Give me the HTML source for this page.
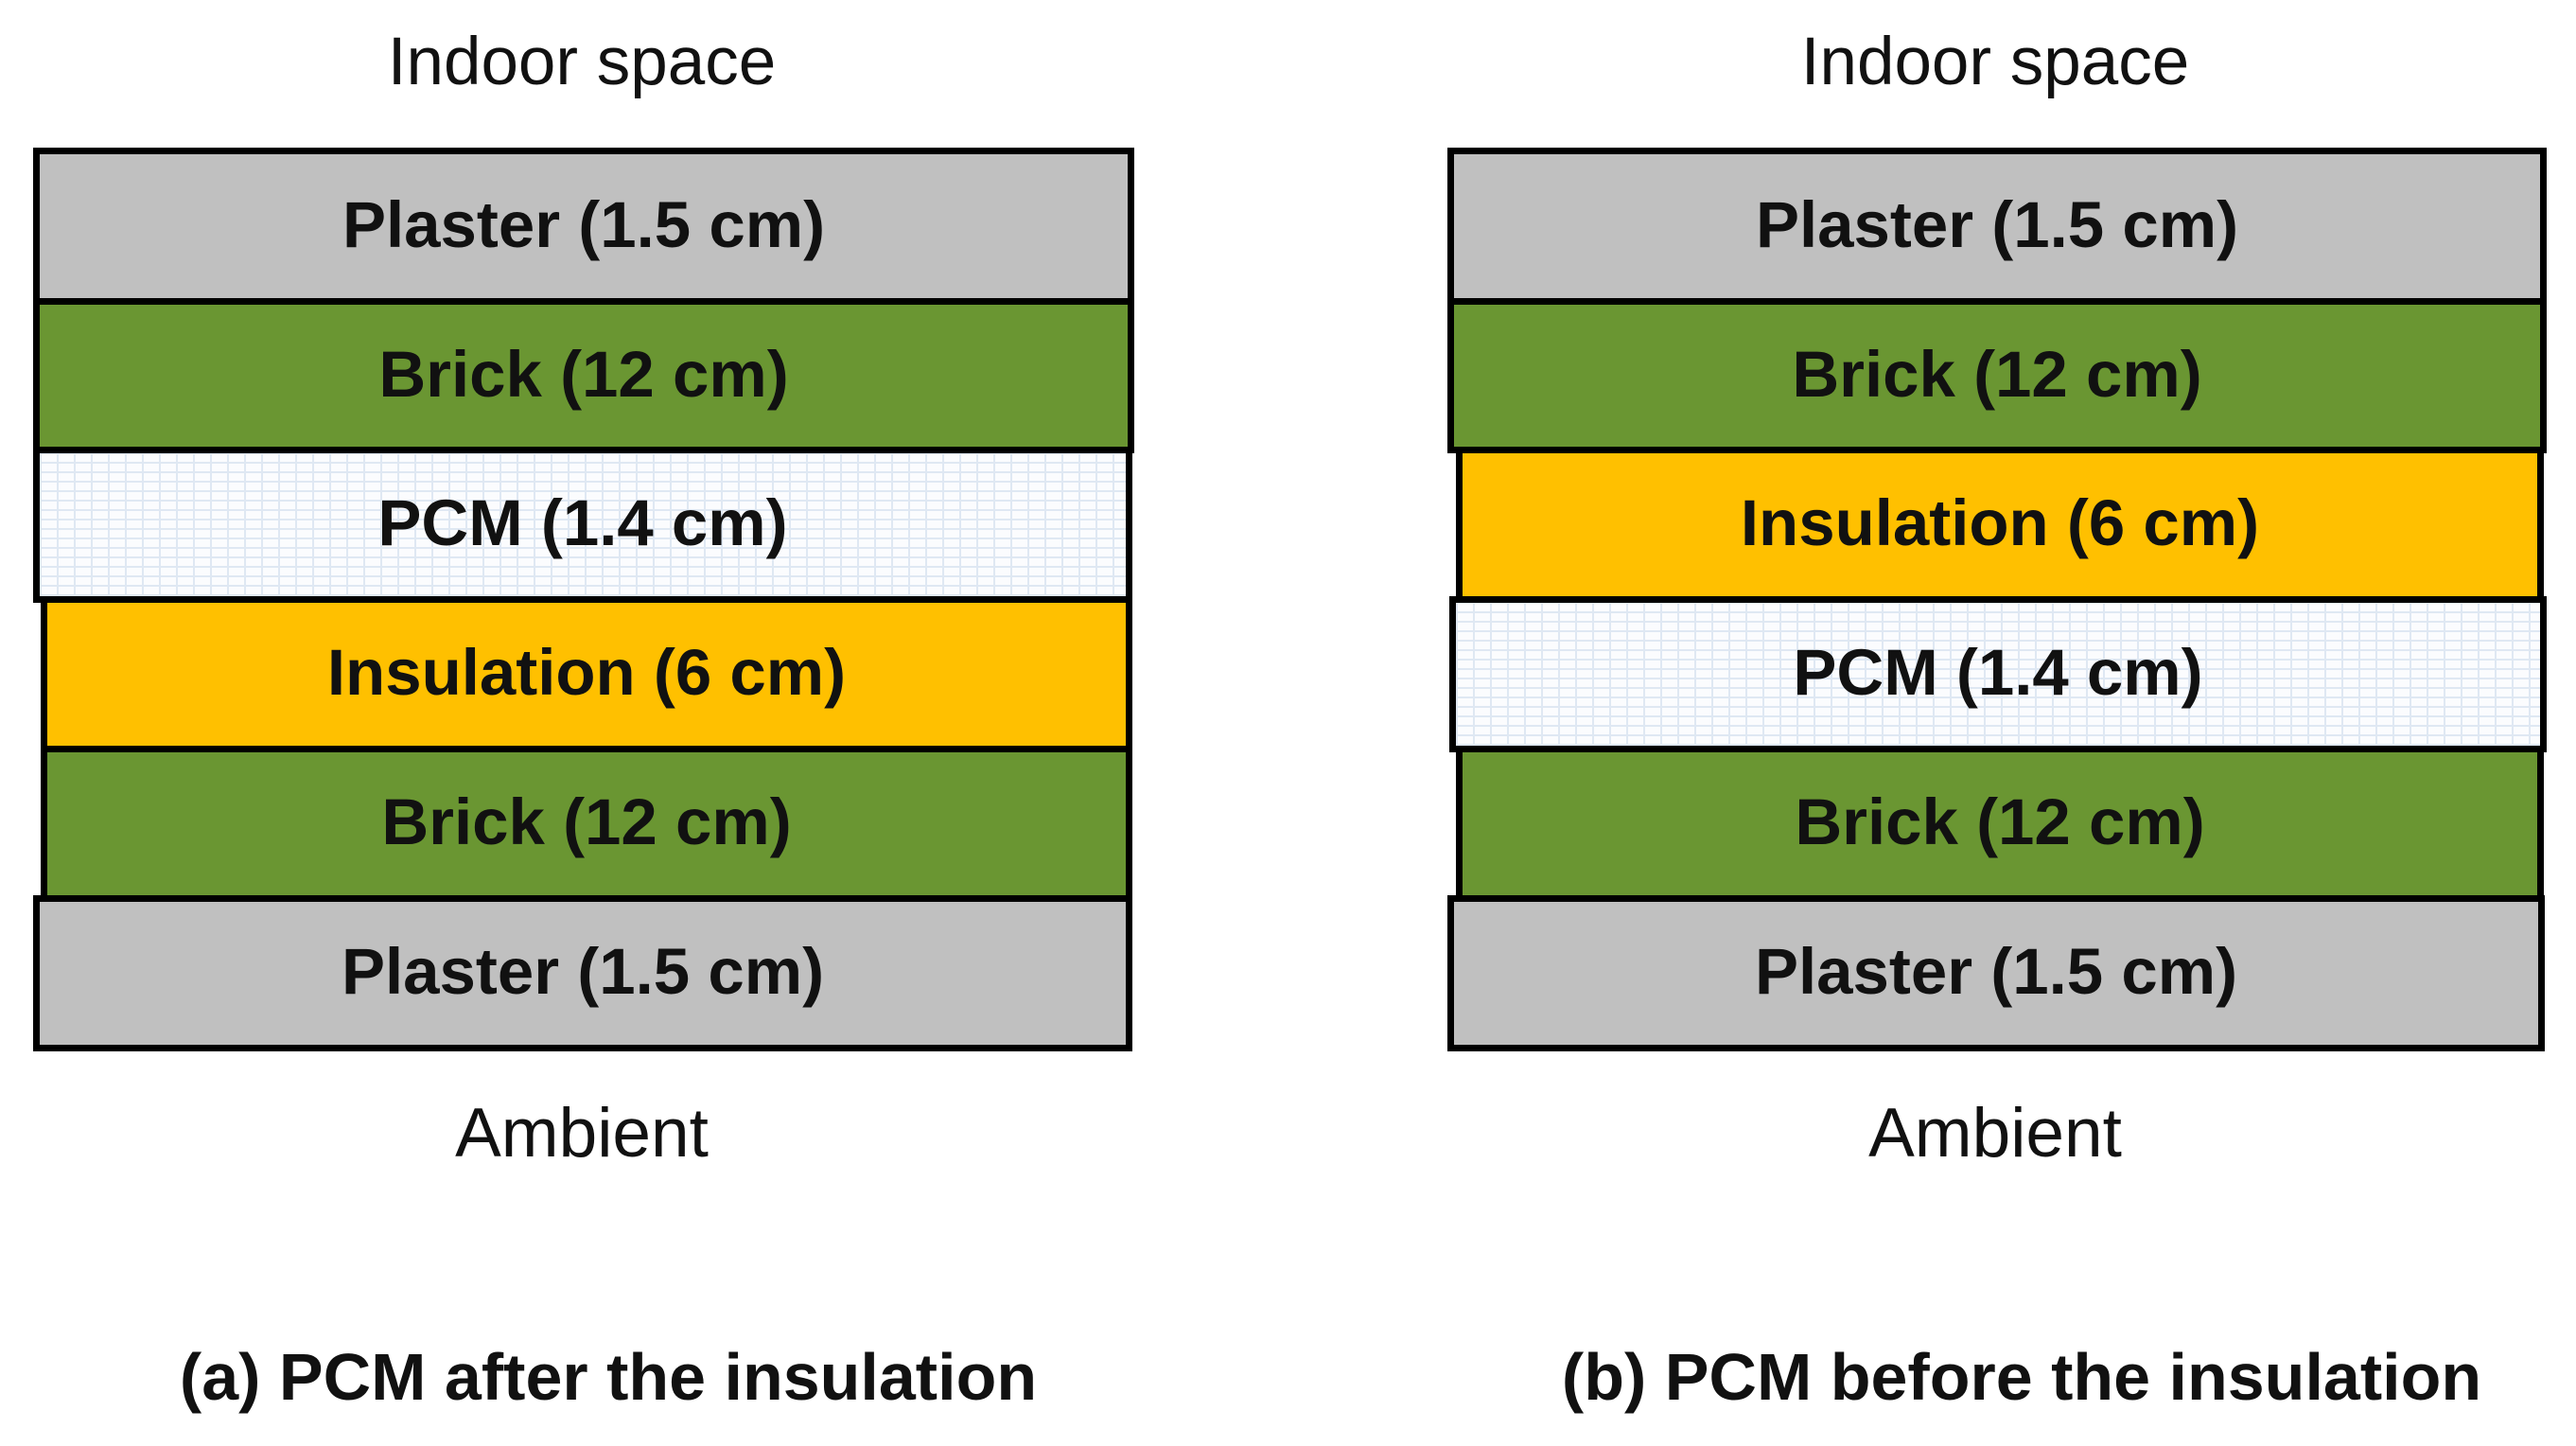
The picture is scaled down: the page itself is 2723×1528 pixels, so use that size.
<!DOCTYPE html>
<html><head><meta charset="utf-8"><style>
body{margin:0;width:2723px;height:1528px;background:#fff;position:relative;overflow:hidden;font-family:"Liberation Sans",sans-serif}
.r{position:absolute;box-sizing:border-box;border:7px solid #000;display:flex;align-items:center;justify-content:center;font-weight:bold;font-size:69px;color:#111;padding-bottom:4px}
.g{background:#c0c0c0}.b{background:#6a9632}.y{background:#ffc000}
.p{background-color:#fbfcfe;background-image:
repeating-linear-gradient(0deg,#dfe8f3 0 2px,transparent 2px 10px),
repeating-linear-gradient(90deg,#dfe8f3 0 2px,transparent 2px 18px)}
.t{position:absolute;transform:translateX(-50%);white-space:nowrap;font-size:71px;color:#111;line-height:1}
.c{font-weight:bold;font-size:70px}
</style></head><body>
<div class="t" style="left:615px;top:30px">Indoor space</div>
<div class="t" style="left:2109px;top:30px">Indoor space</div>

<div class="r g" style="left:35px;top:156px;width:1164px;height:166px">Plaster (1.5 cm)</div>
<div class="r b" style="left:35px;top:315px;width:1164px;height:164px">Brick (12 cm)</div>
<div class="r p" style="left:35px;top:472px;width:1162px;height:165px">PCM (1.4 cm)</div>
<div class="r y" style="left:43px;top:630px;width:1154px;height:165px">Insulation (6 cm)</div>
<div class="r b" style="left:43px;top:788px;width:1154px;height:165px">Brick (12 cm)</div>
<div class="r g" style="left:35px;top:946px;width:1162px;height:165px">Plaster (1.5 cm)</div>

<div class="r g" style="left:1530px;top:156px;width:1162px;height:166px">Plaster (1.5 cm)</div>
<div class="r b" style="left:1530px;top:315px;width:1162px;height:164px">Brick (12 cm)</div>
<div class="r y" style="left:1539px;top:472px;width:1150px;height:165px">Insulation (6 cm)</div>
<div class="r p" style="left:1532px;top:630px;width:1160px;height:165px">PCM (1.4 cm)</div>
<div class="r b" style="left:1539px;top:788px;width:1150px;height:165px">Brick (12 cm)</div>
<div class="r g" style="left:1530px;top:946px;width:1160px;height:165px">Plaster (1.5 cm)</div>

<div class="t" style="left:615px;top:1161px;font-size:73px">Ambient</div>
<div class="t" style="left:2109px;top:1161px;font-size:73px">Ambient</div>
<div class="t c" style="left:643px;top:1420px">(a) PCM after the insulation</div>
<div class="t c" style="left:2137px;top:1420px">(b) PCM before the insulation</div>
</body></html>
